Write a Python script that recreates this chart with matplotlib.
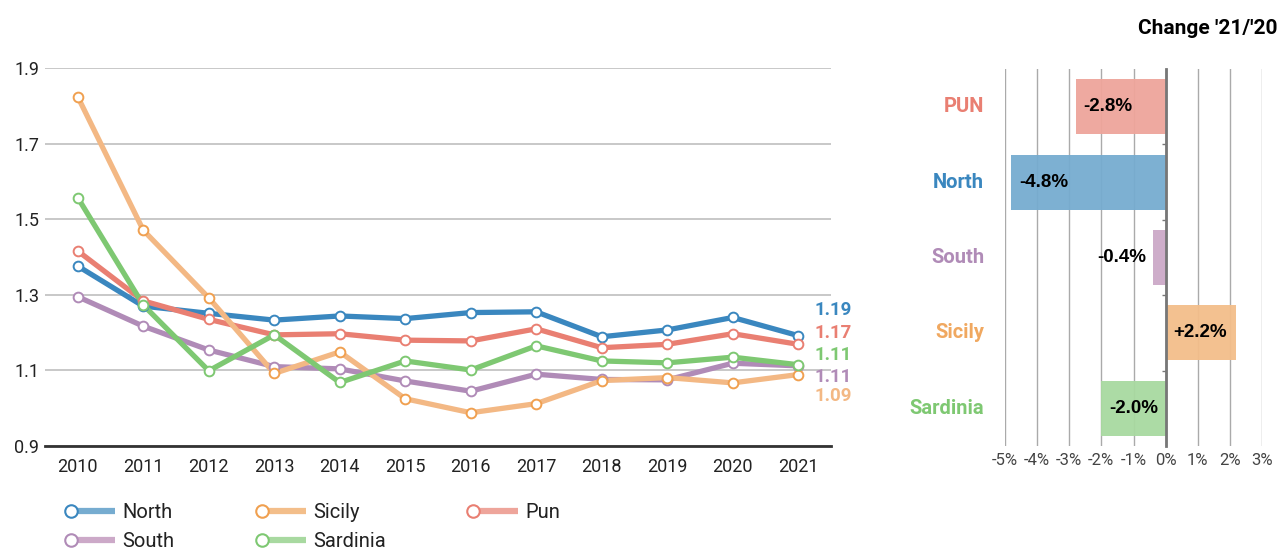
import matplotlib
matplotlib.use("Agg")
import matplotlib.pyplot as plt
from matplotlib.lines import Line2D
from matplotlib.legend_handler import HandlerBase

years = [2010, 2011, 2012, 2013, 2014, 2015, 2016, 2017, 2018, 2019, 2020, 2021]
north = [1.376, 1.270, 1.251, 1.233, 1.244, 1.237, 1.253, 1.255, 1.189, 1.207, 1.240, 1.192]
pun = [1.416, 1.284, 1.235, 1.194, 1.197, 1.180, 1.178, 1.210, 1.160, 1.169, 1.197, 1.169]
sicily = [1.824, 1.471, 1.292, 1.092, 1.149, 1.025, 0.988, 1.012, 1.073, 1.081, 1.067, 1.089]
sardinia = [1.557, 1.273, 1.099, 1.194, 1.068, 1.125, 1.101, 1.165, 1.125, 1.120, 1.135, 1.115]
south = [1.295, 1.217, 1.154, 1.110, 1.104, 1.072, 1.045, 1.090, 1.076, 1.075, 1.119, 1.112]
end_labels = ["1.19", "1.17", "1.11", "1.11", "1.09"]

bar_cats = ["PUN", "North", "South", "Sicily", "Sardinia"]
bar_vals = [-2.8, -4.8, -0.4, 2.2, -2.0]
bar_text = ["-2.8%", "-4.8%", "-0.4%", "+2.2%", "-2.0%"]
x_ticks = [-5, -4, -3, -2, -1, 0, 1, 2, 3]
x_ticklabels = ["-5%", "-4%", "-3%", "-2%", "-1%", "0%", "1%", "2%", "3%"]
y_ticks = [0.9, 1.1, 1.3, 1.5, 1.7, 1.9]

C_N = "#3a87bf"
C_P = "#e97f72"
C_SI = "#f3b884"
C_SI_E = "#f0a050"
C_SA = "#7ec872"
C_SO = "#b08bb7"

FONT = "Roboto"


class LeftMarkerHandler(HandlerBase):
    def create_artists(self, legend, orig_handle, xdescent, ydescent, width, height,
                       fontsize, trans):
        y = height / 2 - ydescent
        ms = orig_handle.get_markersize()
        r = ms * legend.figure.dpi / 72 / 2
        x0 = -xdescent + r
        x1 = width - xdescent
        line = Line2D([x0, x1], [y, y], color=orig_handle.get_color(),
                      lw=orig_handle.get_linewidth(), solid_capstyle="butt")
        mk = Line2D([x0], [y], ls="none", marker="o", ms=ms, mfc="white",
                    mec=orig_handle.get_markeredgecolor(), mew=orig_handle.get_markeredgewidth())
        line.set_transform(trans)
        mk.set_transform(trans)
        return [line, mk]


fig = plt.figure(figsize=(12.81, 5.54), dpi=100)
ax = fig.add_axes([45/1281, 1-446/554, (831-45)/1281, (446-68)/554])

series = [
    ("South", south, C_SO, C_SO),
    ("North", north, C_N, C_N),
    ("Pun", pun, C_P, C_P),
    ("Sicily", sicily, C_SI, C_SI_E),
    ("Sardinia", sardinia, C_SA, C_SA),
]
for name, vals, c, ce in series:
    ax.plot(years, vals, color=c, lw=3.8, solid_capstyle="round", zorder=3, clip_on=False)
for name, vals, c, ce in series:
    ax.plot(years, vals, ls="none", marker="o", ms=7, mfc="white", mec=ce, mew=1.4,
            zorder=4, clip_on=False)

ax.set_xlim(2009.5, 2021.5)
ax.set_ylim(0.9, 1.9)
ax.set_yticks(y_ticks)
ax.set_yticklabels([f"{v:.1f}" for v in y_ticks], fontsize=13, family=FONT, color="#222222")
ax.set_xticks(years)
ax.set_xticklabels([str(y) for y in years], fontsize=13, family=FONT, color="#222222")
ax.tick_params(axis="both", length=0)
ax.tick_params(axis="y", pad=4)
ax.tick_params(axis="x", pad=9)
ax.grid(axis="y", color="#c4c4c4", lw=1.3)
ax.set_axisbelow(True)
for s in ["top", "right", "left"]:
    ax.spines[s].set_visible(False)
ax.spines["bottom"].set_color("#333333")
ax.spines["bottom"].set_linewidth(2)

# end labels
lab_pos = [310, 333, 355, 377, 396]
lab_cols = [C_N, C_P, C_SA, C_SO, C_SI]
for t, py, c in zip(end_labels, lab_pos, lab_cols):
    fig.text(815/1281, 1-py/554, t, color=c, fontsize=13.5, fontweight="bold", family=FONT,
             ha="left", va="center")

# legend
def lh(line_col, edge_col):
    return Line2D([], [], color=line_col, lw=4.5, marker="o", ms=9, mfc="white",
                  mec=edge_col, mew=1.5)

handles = [lh("#76acd0", C_N), lh("#cca9c8", C_SO), lh("#f3be8a", C_SI_E),
           lh("#a8d9a0", C_SA), lh("#eea59b", C_P)]
labels = ["North", "South", "Sicily", "Sardinia", "Pun"]
leg = fig.legend(handles, labels, ncol=3, loc="upper left", bbox_to_anchor=(62/1281, 1-503/554),
                 frameon=False, prop={"family": FONT, "size": 14.5}, handlelength=2.65,
                 handletextpad=0.35, columnspacing=3.9, labelspacing=0.5, borderaxespad=0,
                 borderpad=0, handler_map={Line2D: LeftMarkerHandler()})
for t in leg.get_texts():
    t.set_color("#222222")

# bar chart
bx = fig.add_axes([1005/1281, 1-446/554, (1262-1005)/1281, (446-69)/554])
bar_cols = ["#eea59b", "#76acd0", "#cca9c8", "#f3be8a", "#a8d9a0"]
cat_cols = [C_P, C_N, C_SO, "#f0a860", C_SA]
ypos = list(range(len(bar_cats)))
bx.barh(ypos, bar_vals, height=0.73, color=bar_cols, zorder=3, alpha=0.95)
bx.set_xlim(-5, 3)
bx.set_ylim(4.5, -0.5)
bx.set_xticks(x_ticks)
bx.set_xticklabels(x_ticklabels, fontsize=12, family=FONT, color="#444444")
bx.tick_params(axis="x", length=0, pad=5)
bx.grid(axis="x", color="#aaaaaa", lw=1.0)
for s in ["top", "right", "bottom"]:
    bx.spines[s].set_visible(False)
bx.spines["left"].set_position(("data", 0))
bx.spines["left"].set_color("#777777")
bx.spines["left"].set_linewidth(2)
bx.spines["left"].set_zorder(6)
bx.set_yticks([0.5, 1.5, 2.5, 3.5])
bx.set_yticklabels([])
bx.tick_params(axis="y", length=3, width=1, color="#777777", direction="out")
for gl in bx.get_xgridlines():
    gl.set_zorder(4)

for i, (c, v, t, cc) in enumerate(zip(bar_cats, bar_vals, bar_text, cat_cols)):
    bx.text(-5.65, i, c, ha="right", va="center", color=cc, fontsize=14.5,
            fontweight="bold", family=FONT)
    left = min(v, 0)
    if abs(v) < 1:
        bx.text(left - 0.2, i, t, ha="right", va="center", fontsize=13.5,
                fontweight="bold", family="Liberation Sans", color="black", zorder=7)
    else:
        bx.text(left + 0.24, i, t, ha="left", va="center", fontsize=13.5,
                fontweight="bold", family="Liberation Sans", color="black", zorder=7)

fig.text(1278/1281, 1-28/554, "Change '21/'20", ha="right", va="center", fontsize=15,
         fontweight="bold", family=FONT, color="black")

fig.savefig("out.png", dpi=100, facecolor="white")
